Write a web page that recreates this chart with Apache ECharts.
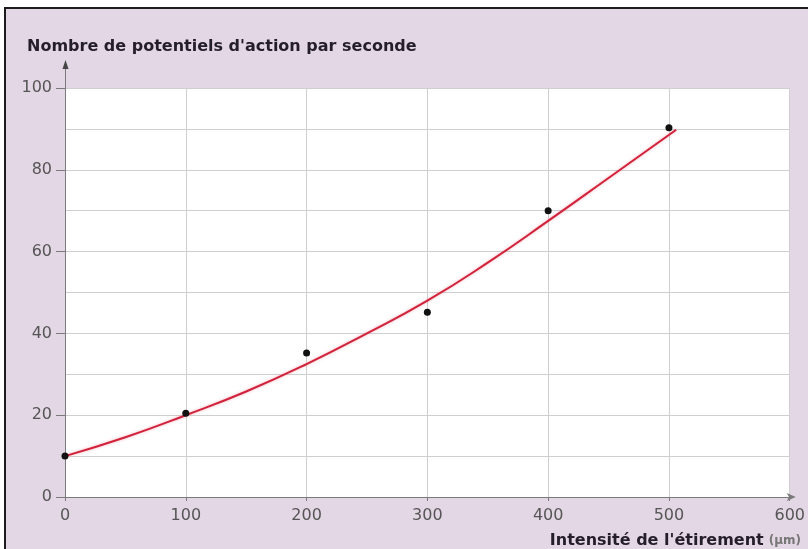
<!DOCTYPE html>
<html>
<head>
<meta charset="utf-8">
<script src="https://cdn.jsdelivr.net/npm/echarts/dist/echarts.min.js"></script>
<style>
  html, body { margin: 0; padding: 0; background: #ffffff; }
  #frame {
    position: absolute; left: 4px; top: 7px; width: 804px; height: 542px;
    border-left: 2px solid #1c1c1c; border-top: 2px solid #1c1c1c;
    background: #e4d7e5; box-sizing: border-box;
  }
  #chart { position: absolute; left: 0; top: 0; width: 808px; height: 549px; }
</style>
</head>
<body>
<div id="frame"></div>
<div id="chart"></div>
<script>
// Measured responses: stretch intensity (µm) vs. action potentials per second
const stretchUm = [0, 100, 200, 300, 400, 500];
const spikesPerSecond = [10, 20.5, 35.2, 45.2, 70, 90.3];

// Fitted trend curve, sampled along the stretch axis
const fitX = [0, 50, 100, 150, 200, 250, 300, 350, 400, 450, 506];
const fitY = [10, 14.6, 20, 25.8, 32.5, 40, 48, 57.3, 67.5, 78, 89.8];

const xAxisMax = 600;
const yAxisMax = 100;

const yTitle = "Nombre de potentiels d'action par seconde";
const xTitle = "Intensité de l'étirement";
const xUnit = "(µm)";

const tickFont = 'DejaVu Sans';
const tickColor = '#555555';
const gridColor = '#cfcfcf';
const axisColor = '#7a7a7a';

const chart = echarts.init(document.getElementById('chart'), null, { renderer: 'canvas' });

chart.setOption({
  backgroundColor: 'transparent',
  animation: false,
  title: [
    {
      text: yTitle,
      left: 22, top: 34,
      textStyle: { fontFamily: 'DejaVu Sans', fontWeight: 'bold', fontSize: 16, color: '#241e2a' }
    },
    {
      text: '{b|' + xTitle + '} {u|' + xUnit + '}',
      right: 2, top: 527,
      textStyle: {
        rich: {
          b: { fontFamily: 'DejaVu Sans', fontWeight: 'bold', fontSize: 16, color: '#241e2a' },
          u: { fontFamily: 'DejaVu Sans', fontSize: 12, color: '#777777' }
        }
      }
    }
  ],
  grid: {
    left: 65, right: 13, top: 88, bottom: 52,
    show: true, backgroundColor: '#ffffff', borderWidth: 0
  },
  xAxis: {
    type: 'value', min: 0, max: xAxisMax, interval: 100,
    axisLine: {
      show: true, lineStyle: { color: axisColor, width: 1 },
      symbol: ['none', 'arrow'], symbolSize: [6, 9], symbolOffset: [0, 6]
    },
    axisTick: { show: true, length: 4, lineStyle: { color: axisColor } },
    axisLabel: { fontFamily: tickFont, fontSize: 16, color: tickColor, margin: 11 },
    splitLine: { show: true, lineStyle: { color: gridColor, width: 1 } }
  },
  yAxis: {
    type: 'value', min: 0, max: yAxisMax, interval: 20,
    axisLine: { show: true, lineStyle: { color: axisColor, width: 1 } },
    axisTick: { show: true, length: 9, lineStyle: { color: axisColor } },
    axisLabel: { fontFamily: tickFont, fontSize: 16, color: tickColor, margin: 13 },
    splitLine: { show: true, lineStyle: { color: gridColor, width: 1 } },
    minorTick: { show: false, splitNumber: 2 },
    minorSplitLine: { show: true, lineStyle: { color: gridColor, width: 1 } }
  },
  series: [
    {
      name: 'fit',
      type: 'line',
      data: fitX.map((x, i) => [x, fitY[i]]),
      smooth: true,
      showSymbol: false,
      lineStyle: {
        color: '#d0233b', width: 2,
        shadowColor: 'rgba(240, 120, 140, 0.6)', shadowBlur: 3
      },
      z: 2
    },
    {
      name: 'mesures',
      type: 'scatter',
      data: stretchUm.map((x, i) => [x, spikesPerSecond[i]]),
      symbol: 'circle',
      symbolSize: 7,
      itemStyle: { color: '#111111', opacity: 1 },
      z: 3
    }
  ]
});

// Extend the vertical axis above the plot with an arrow head
const yAxisTop = chart.convertToPixel({ gridIndex: 0 }, [0, yAxisMax]);
const ax = Math.round(yAxisTop[0]) + 0.5;
const ay = yAxisTop[1];
chart.setOption({
  graphic: [
    {
      type: 'line',
      shape: { x1: ax, y1: ay, x2: ax, y2: ay - 22 },
      style: { stroke: axisColor, lineWidth: 1 }
    },
    {
      type: 'polygon',
      shape: { points: [[ax - 3, ay - 19], [ax, ay - 28], [ax + 3, ay - 19]] },
      style: { fill: '#444444' }
    }
  ]
});
</script>
</body>
</html>
